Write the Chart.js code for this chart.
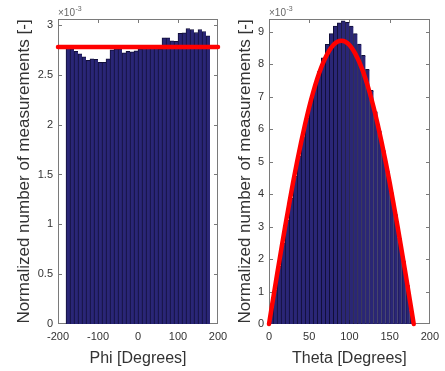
<!DOCTYPE html>
<html>
<head>
<meta charset="utf-8">
<script src="https://cdn.jsdelivr.net/npm/chart.js@4.4.1/dist/chart.umd.min.js"></script>
<style>
  html, body { margin: 0; padding: 0; background: #fff; width: 445px; height: 371px; overflow: hidden; }
  #wrap { position: relative; width: 445px; height: 371px; }
  #wrap canvas { position: absolute; top: 0; }
  #phiChart { left: 0; }
  #thetaChart { left: 225px; }
</style>
</head>
<body>
<div id="wrap">
  <canvas id="phiChart" width="262" height="371"></canvas>
  <canvas id="thetaChart" width="220" height="371"></canvas>
</div>
<script>
// Histogram values are in units of 1e-3 (axis exponent shown above each plot).

// Phi histogram: 10-degree bins from -180 to 180
const phiBins = [-175, -165, -155, -145, -135, -125, -115, -105, -95, -85, -75, -65,
                 -55, -45, -35, -25, -15, -5, 5, 15, 25, 35, 45, 55,
                 65, 75, 85, 95, 105, 115, 125, 135, 145, 155, 165, 175];
const phiCounts = [2.77, 2.76, 2.735, 2.71, 2.68, 2.645, 2.66, 2.655, 2.625, 2.625, 2.66, 2.75,
                   2.76, 2.76, 2.72, 2.735, 2.73, 2.74, 2.76, 2.77, 2.77, 2.78, 2.77, 2.76,
                   2.87, 2.87, 2.84, 2.835, 2.915, 2.92, 2.965, 2.955, 2.925, 2.955, 2.935, 2.89];
// Uniform reference level
const phiRefX = [-200, 200];
const phiRefY = [2.78, 2.78];
const phiXTicks = [-200, -100, 0, 100, 200];
const phiYTicks = [0, 0.5, 1, 1.5, 2, 2.5, 3];

// Theta histogram: 5-degree bins from 0 to 180
const thetaBins = [2.5, 7.5, 12.5, 17.5, 22.5, 27.5, 32.5, 37.5, 42.5, 47.5, 52.5, 57.5,
                   62.5, 67.5, 72.5, 77.5, 82.5, 87.5, 92.5, 97.5, 102.5, 107.5, 112.5, 117.5,
                   122.5, 127.5, 132.5, 137.5, 142.5, 147.5, 152.5, 157.5, 162.5, 167.5, 172.5, 177.5];
const thetaCounts = [0.33, 1.05, 1.78, 2.50, 3.20, 3.88, 4.55, 5.18, 5.78, 6.35, 6.88, 7.35,
                     7.78, 8.20, 8.62, 8.95, 9.18, 9.28, 9.34, 9.30, 9.18, 8.95, 8.63, 8.28,
                     7.85, 7.20, 6.55, 5.95, 5.35, 4.72, 4.05, 3.38, 2.65, 1.95, 1.20, 0.40];
// Expected sine-shaped density
const thetaCurveX = [0, 5, 10, 15, 20, 25, 30, 35, 40, 45, 50, 55, 60, 65, 70, 75, 80, 85, 90,
                     95, 100, 105, 110, 115, 120, 125, 130, 135, 140, 145, 150, 155, 160, 165, 170, 175, 180];
const thetaCurveY = [0, 0.76, 1.52, 2.26, 2.99, 3.69, 4.37, 5.01, 5.61, 6.17, 6.69, 7.15, 7.56, 7.91, 8.20, 8.43, 8.60, 8.70, 8.73,
                     8.70, 8.60, 8.43, 8.20, 7.91, 7.56, 7.15, 6.69, 6.17, 5.61, 5.01, 4.37, 3.69, 2.99, 2.26, 1.52, 0.76, 0];
const thetaXTicks = [0, 50, 100, 150, 200];
const thetaYTicks = [0, 1, 2, 3, 4, 5, 6, 7, 8, 9];

const FONT = "'Liberation Sans', Arial, sans-serif";
const TEXT = '#333333';
const FRAME = '#7a7a7a';
const BAR_FILL = '#2a2676';
const BAR_EDGE = '#110f38';
const LINE_RED = '#ff0000';

const pairs = (xs, ys) => xs.map((x, i) => ({ x: x, y: ys[i] }));

// Axes box with inward ticks on all four sides (1px filled strips)
function drawBox(chart) {
  const ctx = chart.ctx;
  const a = chart.chartArea;
  const xs = chart.scales.x, ys = chart.scales.y;
  const L = Math.round(a.left), R = Math.round(a.right) - 1;
  const T = Math.round(a.top), B = Math.round(a.bottom) - 1;
  ctx.save();
  ctx.globalAlpha = 1;
  ctx.fillStyle = FRAME;
  ctx.fillRect(L, T, R - L + 1, 1);
  ctx.fillRect(L, B, R - L + 1, 1);
  ctx.fillRect(L, T, 1, B - T + 1);
  ctx.fillRect(R, T, 1, B - T + 1);
  for (const t of xs.ticks) {
    const px = Math.round(xs.getPixelForValue(t.value));
    const cx = Math.min(Math.max(px, L), R);
    ctx.fillRect(cx, B - 3, 1, 3);
    ctx.fillRect(cx, T + 1, 1, 3);
  }
  for (const t of ys.ticks) {
    const py = Math.round(ys.getPixelForValue(t.value));
    const cy = Math.min(Math.max(py, T), B);
    ctx.fillRect(L + 1, cy, 3, 1);
    ctx.fillRect(R - 3, cy, 3, 1);
  }
  ctx.restore();
}

// x10^-3 exponent above the y axis
function drawExponent(chart) {
  const ctx = chart.ctx;
  const a = chart.chartArea;
  ctx.save();
  ctx.fillStyle = '#666666';
  ctx.textBaseline = 'alphabetic';
  ctx.textAlign = 'left';
  ctx.font = '10px ' + FONT;
  const base = a.top - 3;
  ctx.fillText('\u00d710', a.left, base);
  const w = ctx.measureText('\u00d710').width;
  ctx.font = '7px ' + FONT;
  ctx.fillText('-3', a.left + w + 0.5, base - 5);
  ctx.restore();
}

const matlabBox = {
  id: 'matlabBox',
  beforeDatasetsDraw(chart) {
    drawBox(chart);
  },
  afterDraw(chart) {
    drawExponent(chart);
  }
};

function makeChart(id, cfg) {
  return new Chart(document.getElementById(id), {
    type: 'bar',
    data: {
      datasets: [
        {
          type: 'line',
          data: cfg.line,
          borderColor: LINE_RED,
          borderWidth: 4.5,
          borderCapStyle: 'round',
          pointRadius: 0,
          cubicInterpolationMode: 'monotone',
          clip: 8,
          order: 0
        },
        {
          type: 'bar',
          data: cfg.bars,
          backgroundColor: BAR_FILL,
          borderColor: BAR_EDGE,
          borderWidth: { top: 1, left: 1, right: 0, bottom: 0 },
          borderSkipped: false,
          barPercentage: 1,
          categoryPercentage: 1,
          order: 1
        }
      ]
    },
    options: {
      responsive: false,
      animation: false,
      events: [],
      layout: { padding: { left: 0, right: cfg.padRight, top: 19, bottom: 3 } },
      plugins: { legend: { display: false }, tooltip: { enabled: false } },
      scales: {
        x: {
          type: 'linear',
          offset: false,
          min: cfg.xMin, max: cfg.xMax,
          afterBuildTicks: s => { s.ticks = cfg.xTicks.map(v => ({ value: v })); },
          afterFit: s => { s.height = 44; },
          grid: { display: false, drawTicks: false, offset: false },
          border: { display: false },
          ticks: { color: TEXT, font: { family: FONT, size: 11 }, padding: 6, maxRotation: 0,
                   callback: v => String(v) },
          title: { display: true, text: cfg.xTitle, color: TEXT,
                   font: { family: FONT, size: 16 }, padding: { top: 0, bottom: 0 } }
        },
        y: {
          type: 'linear',
          min: 0, max: cfg.yMax,
          afterBuildTicks: s => { s.ticks = cfg.yTicks.map(v => ({ value: v })); },
          afterFit: s => { s.width = cfg.yWidth; },
          grid: { display: false, drawTicks: false },
          border: { display: false },
          ticks: { color: TEXT, font: { family: FONT, size: 11 }, padding: 5,
                   callback: v => String(v) },
          title: { display: true, text: 'Normalized number of measurements [-]', color: TEXT,
                   font: { family: FONT, size: 17 }, padding: { top: cfg.yTitlePad, bottom: 0 } }
        }
      }
    },
    plugins: [matlabBox]
  });
}

makeChart('phiChart', {
  bars: pairs(phiBins, phiCounts),
  line: pairs(phiRefX, phiRefY),
  xMin: -200, xMax: 200, xTicks: phiXTicks,
  yMax: 3.06, yTicks: phiYTicks,
  xTitle: 'Phi [Degrees]',
  yWidth: 58, yTitlePad: 14, padRight: 44
});

makeChart('thetaChart', {
  bars: pairs(thetaBins, thetaCounts),
  line: pairs(thetaCurveX, thetaCurveY),
  xMin: 0, xMax: 200, xTicks: thetaXTicks,
  yMax: 9.4, yTicks: thetaYTicks,
  xTitle: 'Theta [Degrees]',
  yWidth: 44, yTitlePad: 10, padRight: 15
});
</script>
</body>
</html>
